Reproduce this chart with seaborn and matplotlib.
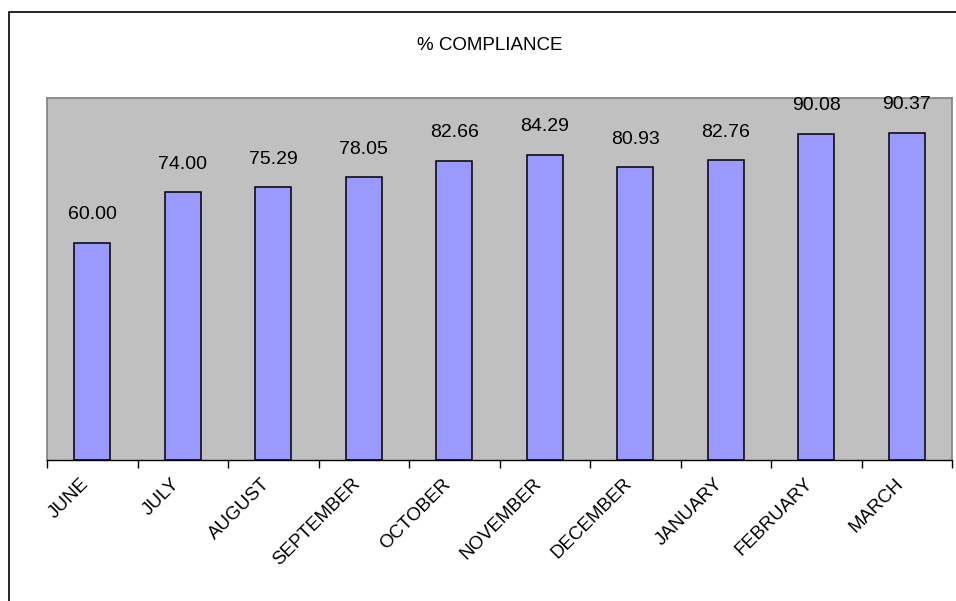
import matplotlib
matplotlib.use("Agg")
import matplotlib.pyplot as plt
import matplotlib.transforms as mtrans
import seaborn as sns
import numpy as np
from matplotlib.patches import Rectangle

months = ["JUNE", "JULY", "AUGUST", "SEPTEMBER", "OCTOBER", "NOVEMBER",
          "DECEMBER", "JANUARY", "FEBRUARY", "MARCH"]
compliance = [60.00, 74.00, 75.29, 78.05, 82.66, 84.29, 80.93, 82.76, 90.08, 90.37]
title = "% COMPLIANCE"

sns.set_style("white")
plt.rcParams['font.family'] = ['Liberation Sans', 'DejaVu Sans']
plt.rcParams['text.color'] = 'black'
plt.rcParams['xtick.color'] = 'black'
plt.rcParams['xtick.labelcolor'] = 'black'

fig = plt.figure(figsize=(9.56, 6.01), dpi=100)
ax = fig.add_axes([47/956, 1-460/601, (952-47)/956, (460-98)/601])
ax.set_facecolor("#C0C0C0")

sns.barplot(x=months, y=compliance, color="#9999FF", saturation=1,
            edgecolor="black", linewidth=1.1, width=0.4, ax=ax)

ax.bar_label(ax.containers[0], fmt="%.2f", padding=14, fontsize=14, color="black")

ax.set_xlim(-0.5, len(months) - 0.5)
ax.set_ylim(0, 100)
ax.set_yticks([])
ax.set_xlabel("")
ax.set_ylabel("")

ax.set_xticks(np.arange(len(months)))
ax.set_xticklabels(months, rotation=45, ha="right", va="top",
                   rotation_mode="anchor", fontsize=13.5, color="black")
ax.tick_params(axis="x", which="major", length=0, pad=11, bottom=True)
ax.set_xticks(np.arange(len(months) + 1) - 0.5, minor=True)
ax.tick_params(axis="x", which="minor", length=6, width=1, color="black",
               direction="out", bottom=True)
shift = mtrans.ScaledTranslation(-12/100, 0, fig.dpi_scale_trans)
for lab in ax.get_xticklabels():
    lab.set_transform(lab.get_transform() + shift)

for s in ["top", "left", "right"]:
    ax.spines[s].set_color("#808080")
    ax.spines[s].set_linewidth(1.2)
ax.spines["bottom"].set_color("black")
ax.spines["bottom"].set_linewidth(1.0)

fig.text(490/956, 1-45/601, title, ha="center", va="center", fontsize=13.5, color="black")

fig.patches.append(Rectangle((9/956, -0.5), 2.0, 0.5 + 1 - 12/601,
                             transform=fig.transFigure, fill=False,
                             edgecolor="black", linewidth=1.2))

fig.savefig("out.png", dpi=100)
